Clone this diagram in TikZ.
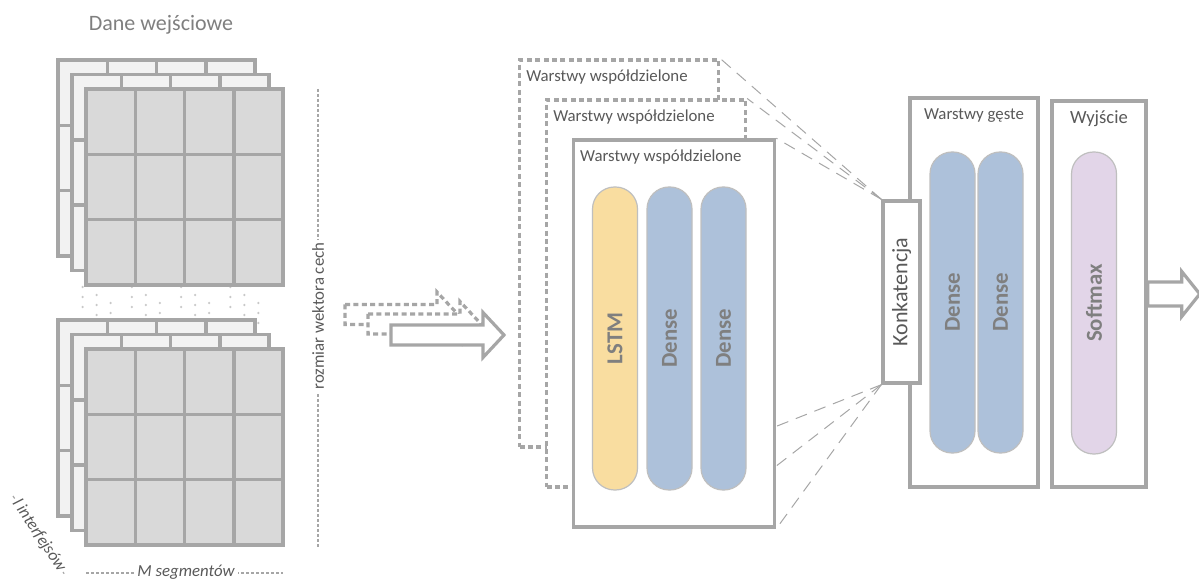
\documentclass[tikz,border=0pt]{standalone}
\usepackage{fontspec}
\setmainfont{Carlito}
\usepackage{tikz}
\usetikzlibrary{positioning,backgrounds}
\usepackage{xcolor}

\definecolor{linegray}{HTML}{A6A6A6}
\definecolor{textgray}{HTML}{595959}
\definecolor{labelgray}{HTML}{7F7F7F}
\definecolor{cellfront}{HTML}{D9D9D9}
\definecolor{cellback}{HTML}{F2F2F2}
\definecolor{dotgray}{HTML}{C8C8C8}
\definecolor{lstmfill}{HTML}{F9DDA0}
\definecolor{densefill}{HTML}{ADC1DA}
\definecolor{softfill}{HTML}{E2D5E8}
\definecolor{pillborder}{HTML}{BFBFBF}

\tikzset{
  grid line/.style={draw=linegray, line width=1.75pt},
  gap dots/.style={dotgray, line width=1.3pt, line cap=round, dash pattern=on 0pt off 5pt},
  layer box/.style={draw=linegray, line width=1.75pt, fill=white, inner sep=0pt},
  shared dashed/.style={layer box, line width=1.6pt, dash pattern=on 2.5pt off 1.7pt},
  pill/.style={draw=pillborder, line width=0.6pt, rounded corners=11pt, minimum width=22.5pt,
    inner sep=0pt, font=\bfseries\fontsize{11.4}{13}\selectfont, text=labelgray},
  box title/.style={font=\fontsize{8.4}{10}\selectfont, text=textgray, inner sep=0pt},
  connector/.style={linegray, line width=0.5pt, dash pattern=on 6pt off 4pt},
  measure/.style={linegray, line width=0.6pt, dash pattern=on 1.5pt off 1pt},
  measure label/.style={font=\fontsize{8.4}{10}\selectfont, text=textgray, fill=white, inner sep=1.5pt},
  solid arrow/.style={color=linegray, line width=1.6pt},
  dashed arrow/.style={color=linegray, line width=1.6pt, dash pattern=on 2.5pt off 1.7pt},
  pics/block arrow/.style n args={3}{code={
    \draw[fill=white] (0,-#3) -- (#1-#2,-#3) -- (#1-#2,-22.5) -- (#1,0)
      -- (#1-#2,22.5) -- (#1-#2,#3) -- (0,#3) -- cycle;}}
}

\begin{document}
\begin{tikzpicture}[x=0.5pt,y=-0.5pt]
  \useasboundingbox (0,0) rectangle (1199,582);

  % input data
  \node[font=\fontsize{11}{13}\selectfont, text=labelgray] (input title) at (161,25) {Dane wejściowe};

  \foreach \k in {0,1,2}
    \foreach \j in {0,...,3}
      \draw[gap dots] (82.6+14*\k+49.25*\j, 287+8*\k) -- ++(0,22);

  \foreach \stack in {0,260} {
    \foreach \k/\cellfill in {0/cellback,1/cellback,2/cellfront} {
      \draw[grid line, fill=\cellfill] (58+14*\k, 60+14.5*\k+\stack) rectangle ++(197,196);
      \foreach \j in {1,2,3}
        \draw[grid line] (58+14*\k+49.25*\j, 60+14.5*\k+\stack) -- ++(0,196);
      \foreach \i in {1,2}
        \draw[grid line] (58+14*\k, 60+14.5*\k+\stack+65.33*\i) -- ++(197,0);
    }
  }

  \draw[measure] (318,89) -- (318,547);
  \node[measure label, rotate=90] (vector size) at (318,316) {rozmiar wektora cech};
  \draw[measure] (86,573) -- (283,573);
  \node[measure label, font=\itshape\fontsize{8.4}{10}\selectfont] (segments) at (186,572) {M segmentów};
  \draw[measure] (13,496) -- (65,575);
  \node[measure label, font=\itshape\fontsize{8.4}{10}\selectfont, rotate=-56, inner sep=1pt] (interfaces) at (39,535.5) {l interfejsów};

  % arrow into the model
  \pic[dashed arrow] at (345,314.5) {block arrow={113}{21}{10}};
  \pic[dashed arrow] at (368,324) {block arrow={113}{21}{10}};
  \pic[solid arrow] at (391,335) {block arrow={113}{21}{10}};

  % shared layers
  \node[shared dashed, minimum width=99.5pt, minimum height=193.5pt] (shared box 1) at (619,253.5) {};
  \node[box title, anchor=west] (shared title 1) at ([shift={(8,19)}]shared box 1.north west) {Warstwy współdzielone};
  \node[shared dashed, minimum width=99.5pt, minimum height=193.5pt] (shared box 2) at (646,293.5) {};
  \node[box title, anchor=west] (shared title 2) at ([shift={(8,19)}]shared box 2.north west) {Warstwy współdzielone};
  \node[layer box, minimum width=100.5pt, minimum height=193.5pt] (shared box 3) at (674,333.5) {};
  \node[box title, anchor=west] (shared title 3) at ([shift={(8,19)}]shared box 3.north west) {Warstwy współdzielone};

  \node[pill, fill=lstmfill, minimum height=151.5pt] (lstm) at (615,338.5) {\rotatebox{90}{LSTM}};
  \node[pill, fill=densefill, minimum height=151.5pt] (dense 1) at (669.5,338.5) {\rotatebox{90}{Dense}};
  \node[pill, fill=densefill, minimum height=151.5pt] (dense 2) at (723.5,338.5) {\rotatebox{90}{Dense}};

  % dense layers
  \node[layer box, minimum width=64pt, minimum height=194.5pt] (dense box) at (974,292.5) {};
  \node[box title] (dense title) at ([shift={(0,19)}]dense box.north) {Warstwy gęste};
  \node[pill, fill=densefill, minimum height=150.5pt] (dense 3) at (952.5,302.5) {\rotatebox{90}{Dense}};
  \node[pill, fill=densefill, minimum height=150.5pt] (dense 4) at (1000.5,302.5) {\rotatebox{90}{Dense}};

  \node[layer box, minimum width=18.5pt, minimum height=91pt, font=\fontsize{11}{13}\selectfont,
    text=textgray] (konkat) at (901.5,292) {\rotatebox{90}{Konkatencja}};

  % output
  \node[layer box, minimum width=47pt, minimum height=193pt] (output box) at (1099,294) {};
  \node[box title, font=\fontsize{9.3}{11}\selectfont] (output title) at ([shift={(0,19)}]output box.north) {Wyjście};
  \node[pill, fill=softfill, minimum height=151pt] (softmax) at (1094,303) {\rotatebox{90}{Softmax}};
  \pic[solid arrow] at (output box.east) {block arrow={52}{18}{12}};

  \begin{scope}[on background layer]
    \foreach \n in {1,2,3} {
      \draw[connector] (konkat.north west) -- (shared box \n.north east);
      \draw[connector] (konkat.south west) -- (shared box \n.south east);
    }
  \end{scope}
\end{tikzpicture}
\end{document}
